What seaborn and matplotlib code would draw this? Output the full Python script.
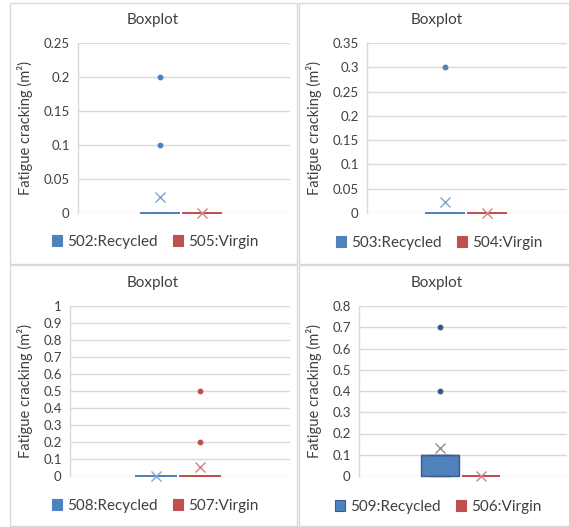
import numpy as np
import pandas as pd
import seaborn as sns
import matplotlib.pyplot as plt
from matplotlib.patches import Rectangle, Patch
from matplotlib.ticker import MultipleLocator, FuncFormatter

# Fatigue cracking (m²) measured on each test section
s502_recycled = [0, 0, 0, 0, 0, 0, 0, 0, 0, 0, 0, 0.1, 0.2]
s505_virgin = [0, 0, 0, 0, 0, 0, 0, 0, 0, 0, 0, 0, 0]
s503_recycled = [0, 0, 0, 0, 0, 0, 0, 0, 0, 0, 0, 0, 0.3]
s504_virgin = [0, 0, 0, 0, 0, 0, 0, 0, 0, 0, 0, 0, 0]
s508_recycled = [0, 0, 0, 0, 0, 0, 0, 0, 0, 0, 0, 0, 0]
s507_virgin = [0, 0, 0, 0, 0, 0, 0, 0, 0, 0, 0, 0.2, 0.5]
s509_recycled = [0, 0, 0, 0, 0, 0.1, 0.1, 0.1, 0.1, 0.1, 0.1, 0.4, 0.7]
s506_virgin = [0, 0, 0, 0, 0, 0, 0, 0, 0, 0, 0, 0, 0]

panel_series = [
    [("502:Recycled", s502_recycled), ("505:Virgin", s505_virgin)],
    [("503:Recycled", s503_recycled), ("504:Virgin", s504_virgin)],
    [("508:Recycled", s508_recycled), ("507:Virgin", s507_virgin)],
    [("509:Recycled", s509_recycled), ("506:Virgin", s506_virgin)],
]
y_max = [0.25, 0.35, 1.0, 0.8]
y_step = [0.05, 0.05, 0.1, 0.1]

BLUE, RED = "#4F81BD", "#C0504D"
BLUE_DARK = "#385D8A"
GRID = "#D9D9D9"
TEXT = "#404040"

sns.set_theme(style="white")
plt.rcParams["font.family"] = ["Lato", "DejaVu Sans"]

W, H = 569, 527
fig = plt.figure(figsize=(W / 100, H / 100), dpi=100)


def fig_rect(l, t, r, b):
    return [l / W, 1 - b / H, (r - l) / W, (b - t) / H]


# chart frames (pixel boxes) and plot areas
frames = [(10, 3, 297, 264), (299, 3, 580, 264), (10, 265, 297, 526), (299, 265, 580, 526)]
plot_areas = [(78, 43, 290, 213), (367, 43, 567, 213), (70, 306, 290, 476), (359, 306, 567, 476)]
box_centres = [(160, 42), (445, 42), (156, 44), (440, 41)]  # first box centre px, spacing px
title_pos = [(153, 24), (437, 24), (153, 287), (437, 287)]
legend_pos = [(155, 242), (439, 243), (155, 506), (438, 507)]
ylabel_x = [33, 322, 33, 322]

for i in range(4):
    fr = frames[i]
    fig.add_artist(Rectangle((fr[0] / W, 1 - fr[3] / H), (fr[2] - fr[0]) / W, (fr[3] - fr[1]) / H,
                             transform=fig.transFigure, fill=False, ec=GRID, lw=1.0))
    l, t, r, b = plot_areas[i]
    ax = fig.add_axes(fig_rect(l, t, r, b))
    names = [s[0] for s in panel_series[i]]
    df = pd.DataFrame({
        "series": [n for n, vals in panel_series[i] for _ in vals],
        "value": [v for _, vals in panel_series[i] for v in vals],
    })
    for j, (name, vals) in enumerate(panel_series[i]):
        colour = BLUE if j == 0 else RED
        sub = df[df["series"] == name]
        has_box = np.percentile(vals, 75) > np.percentile(vals, 25)
        edge = BLUE_DARK if has_box else colour
        if i == 3 and j == 0:
            mean_c = "#8C8C8C"
            flier_c = BLUE_DARK
        else:
            mean_c = "#7FA3D3" if j == 0 else "#D4817F"
            flier_c = colour
        sns.boxplot(data=sub, x="series", y="value", order=names, ax=ax,
                    color=colour, linecolor=edge, linewidth=1.0 if has_box else 1.3,
                    saturation=1, width=0.95, showmeans=True, whis=1.5,
                    meanprops=dict(marker="x", markeredgecolor=mean_c, markersize=7,
                                   markeredgewidth=1.0),
                    flierprops=dict(marker="o", markerfacecolor=flier_c,
                                    markeredgecolor=flier_c, markersize=3.2))
    for art in list(ax.patches) + list(ax.lines):
        art.set_clip_on(False)
        art.set_zorder(3)

    c0, s = box_centres[i]
    ax.set_xlim((l - c0) / s, (r - c0) / s)
    ax.set_ylim(0, y_max[i])
    ax.yaxis.set_major_locator(MultipleLocator(y_step[i]))
    ax.yaxis.set_major_formatter(FuncFormatter(lambda v, p: f"{round(v, 2):g}"))
    ax.set_xticks([])
    ax.set_xlabel("")
    ax.yaxis.grid(True, color=GRID, lw=1.0)
    ax.set_axisbelow(True)
    for sp in ["top", "right", "bottom"]:
        ax.spines[sp].set_visible(False)
    ax.spines["left"].set_color(GRID)
    ax.spines["left"].set_linewidth(1.0)
    ax.tick_params(axis="y", length=0, pad=6, labelsize=9.5, labelcolor=TEXT)

    ax.set_ylabel("Fatigue cracking (m²)", fontsize=10.5, color=TEXT)
    ax.yaxis.set_label_coords((ylabel_x[i] - l) / (r - l), 0.5)

    tx, ty = title_pos[i]
    fig.text(tx / W, 1 - ty / H, "Boxplot", ha="center", va="baseline",
             fontsize=11, color=TEXT)

    handles = [Patch(facecolor=BLUE, edgecolor=BLUE_DARK if i == 3 else BLUE, lw=0.8),
               Patch(facecolor=RED, edgecolor=RED, lw=0.8)]
    lx, ly = legend_pos[i]
    ax.legend(handles, names, loc="center", bbox_to_anchor=(lx / W, 1 - ly / H),
              bbox_transform=fig.transFigure, ncol=2, frameon=False, fontsize=11,
              handlelength=0.7, handleheight=0.7, handletextpad=0.3,
              columnspacing=1.0, labelcolor=TEXT, borderpad=0, borderaxespad=0)

fig.savefig("out.png", dpi=100)
